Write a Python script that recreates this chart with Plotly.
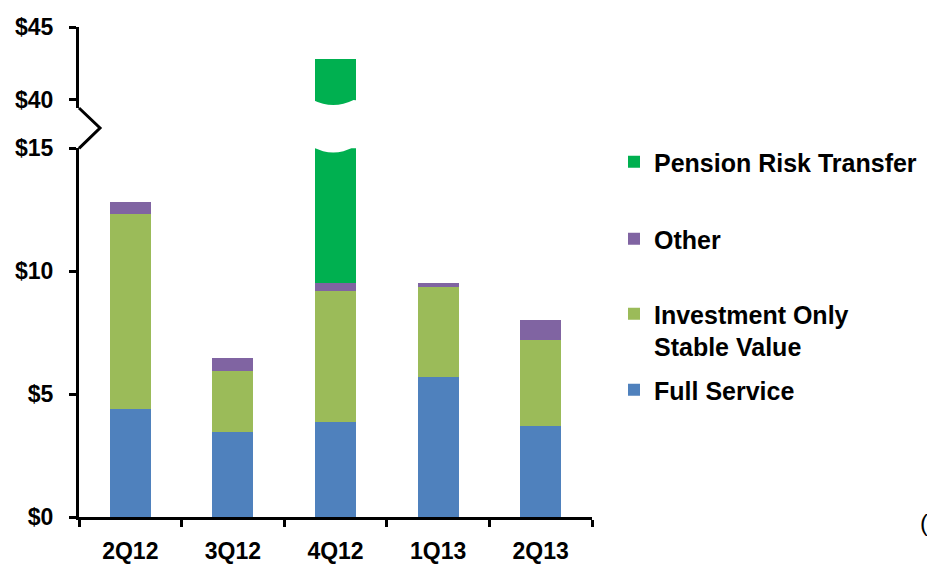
import plotly.graph_objects as go

categories = ['2Q12', '3Q12', '4Q12', '1Q13', '2Q13']
full_service = [4.38, 3.47, 3.88, 5.69, 3.71]
investment_only = [7.93, 2.49, 5.30, 3.67, 3.50]
other = [0.52, 0.51, 0.32, 0.15, 0.82]
pension_risk = [0, 0, 33.3, 0, 0]

lower_ticks = [0, 5, 10, 15]
upper_ticks = [40, 45]

FONT = 'Arial, Liberation Sans, sans-serif'
# page body has an 8px margin, so the figure is drawn shifted by that much
OFF = 8
W, H = 935 - OFF, 566 - OFF
PLOT_L, PLOT_R, PLOT_T, PLOT_B = 79, 592, 27, 517   # screen pixels
L, T = PLOT_L - OFF, PLOT_T - OFF
R, B = W - (PLOT_R - OFF), H - (PLOT_B - OFF)
plot_h = PLOT_B - PLOT_T
plot_w = PLOT_R - PLOT_L


def py(pix):
    # screen pixel row -> paper y
    return (PLOT_B - pix) / plot_h


def px(pix):
    return (pix - PLOT_L) / plot_w


series = [
    ('Full Service', full_service, '#4F81BD', 'legend4'),
    ('Investment Only<br>Stable Value', investment_only, '#9BBB59', 'legend3'),
    ('Other', other, '#8064A2', 'legend2'),
    ('Pension Risk Transfer', pension_risk, '#00B050', 'legend'),
]

bar_width = 0.4

fig = go.Figure()
for name, vals, color, leg in series:
    fig.add_trace(go.Bar(
        x=categories, y=vals, name=name, marker_color=color,
        marker_line_width=0, width=bar_width, legend=leg,
        yaxis='y', showlegend=True
    ))
for name, vals, color, leg in series:
    fig.add_trace(go.Bar(
        x=categories, y=vals, name=name, marker_color=color,
        marker_line_width=0, width=bar_width, legend=leg,
        yaxis='y2', showlegend=False
    ))

lower_top = py(148.3)
upper_bot = py(108)

axis_font = dict(family=FONT, size=23, color='black', weight='bold')
fig.update_layout(
    width=W, height=H,
    margin=dict(l=L, r=R, t=T, b=B, autoexpand=False),
    paper_bgcolor='white', plot_bgcolor='white',
    barmode='stack',
    xaxis=dict(
        showline=True, linecolor='black', linewidth=3,
        ticks='outside', tickson='boundaries', ticklen=7, tickwidth=3, tickcolor='black',
        tickfont=axis_font, ticklabelstandoff=11, showgrid=False, zeroline=False
    ),
    yaxis=dict(
        domain=[0, lower_top], range=[0, 15],
        tickvals=lower_ticks, ticktext=['$' + str(v) for v in lower_ticks],
        showline=True, linecolor='black', linewidth=3,
        ticks='outside', ticklen=7, tickwidth=3, tickcolor='black',
        tickfont=axis_font, ticklabelstandoff=11, showgrid=False, zeroline=False
    ),
    yaxis2=dict(
        domain=[upper_bot, 1], range=[40 - (108 - 100) / 14.54, 45],
        tickvals=upper_ticks, ticktext=['$' + str(v) for v in upper_ticks], anchor='x',
        showline=True, linecolor='black', linewidth=3,
        ticks='outside', ticklen=7, tickwidth=3, tickcolor='black',
        tickfont=axis_font, ticklabelstandoff=11, showgrid=False, zeroline=False
    ),
)

leg_common = dict(
    font=dict(family=FONT, size=25, color='black', weight='bold'),
    bgcolor='rgba(0,0,0,0)', xanchor='left', yanchor='middle',
    valign='top', itemclick=False
)
fig.update_layout(
    legend=dict(x=px(614), y=py(162), **leg_common),
    legend2=dict(x=px(614), y=py(239), **leg_common),
    legend3=dict(x=px(614), y=py(330), **leg_common),
    legend4=dict(x=px(614), y=py(390), **leg_common),
)

# axis break zigzag
fig.add_shape(
    type='path', xref='paper', yref='paper',
    path=f'M 0,{py(108)} L {px(100)},{py(128)} L 0,{py(148.3)}',
    line=dict(color='black', width=3)
)

# wavy cut through the tall 4Q12 bar
ci = categories.index('4Q12')
x0 = (ci + 0.5 - bar_width / 2) / len(categories) - 0.004
x1 = (ci + 0.5 + bar_width / 2) / len(categories) + 0.004
w = x1 - x0
fig.add_shape(
    type='path', xref='paper', yref='paper', layer='above',
    fillcolor='white', line=dict(width=0),
    path=(f'M {x0},{py(100)} Q {x0 + 0.45 * w},{py(110)} {x0 + 0.9 * w},{py(100)} '
          f'L {x1},{py(100.5)} L {x1},{py(147.5)} '
          f'L {x0 + 0.9 * w},{py(147)} Q {x0 + 0.45 * w},{py(158)} {x0},{py(147)} Z')
)

fig.add_annotation(
    text='(', xref='paper', yref='paper', x=px(918), y=py(522),
    xanchor='left', yanchor='middle', showarrow=False,
    font=dict(family=FONT, size=24, color='black')
)

fig.write_html('out.html')
